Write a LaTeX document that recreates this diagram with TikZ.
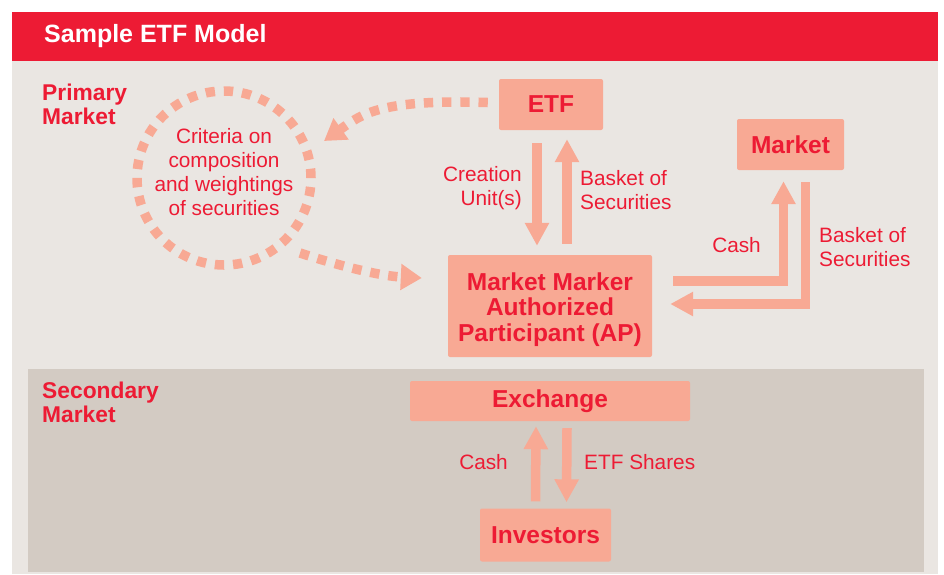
\documentclass[tikz,border=0pt]{standalone}
\usepackage{fontspec}
\setmainfont{Liberation Sans}
\usetikzlibrary{arrows.meta}
\definecolor{etfred}{HTML}{ED1B34}
\definecolor{salmon}{HTML}{F8A994}
\definecolor{panelA}{HTML}{EAE6E2}
\definecolor{panelB}{HTML}{D3CBC3}
\begin{document}
\begin{tikzpicture}[x=1pt,y=-1pt,
  box/.style={fill=salmon, rounded corners=2pt, inner sep=0pt, text=etfred,
    align=center, font=\fontsize{24.5}{25.5}\selectfont\bfseries},
  lbl/.style={inner sep=0pt, text=etfred, font=\fontsize{20.8}{24}\selectfont},
  sect/.style={inner sep=0pt, text=etfred, align=left,
    font=\fontsize{22.8}{24}\selectfont\bfseries},
  fat/.style={salmon, line width=9.5pt, line join=miter,
    -{Triangle[width=23pt,length=23pt]}},
  dashy/.style={salmon, line width=9.5pt, dash pattern=on 9.3pt off 8.92pt},
  dasharrow/.style={dashy, -{Triangle[width=25pt,length=21pt]}}]
\useasboundingbox (0,0) rectangle (944,574);
% panels and header band
\fill[white] (0,0) rectangle (944,574);
\fill[panelA] (12,61) rectangle (938,574);
\fill[etfred] (12,12) rectangle (938,61);
\fill[panelB] (28,369) rectangle (924,572);
\node[anchor=west, inner sep=0pt, text=white,
  font=\fontsize{25}{26}\selectfont\bfseries] (title) at (44,36) {Sample ETF Model};

% section labels
\node[sect, anchor=west] (prim) at (42,104) {Primary\\Market};
\node[sect, anchor=west] (sec) at (42,402) {Secondary\\Market};

% boxes
\node[box, minimum width=104pt, minimum height=51pt] (ETF) at (551,104.5) {ETF};
\node[box, minimum width=107pt, minimum height=51pt] (Market) at (790.5,144.5) {Market};
\node[box, minimum width=204pt, minimum height=102pt] (AP) at (550,306)
  {\rule{0pt}{24.5pt}Market Marker\\Authorized\\Participant (AP)};
\node[box, minimum width=280pt, minimum height=40pt] (Exchange) at (550,401) {Exchange};
\node[box, minimum width=131pt, minimum height=53pt] (Investors) at (545.5,535) {Investors};

% criteria circle
\node[circle, draw, dashy, minimum size=174pt, inner sep=0pt] (crit) at (224,178) {};
\node[lbl, align=center] (crittxt) at (224,172)
  {Criteria on\\composition\\and weightings\\of securities};

% dashed links
\draw[dasharrow] ([shift={(-11,-2)}]ETF.west) .. controls (380,99) and (362,114)
  .. ([shift={(100,-37)}]crit.center);
\draw[dasharrow] ([shift={(76,75)}]crit.center) .. controls (340,266) and (380,276)
  .. ([shift={(-26,-28)}]AP.west);

% ETF <-> AP
\draw[fat] ([shift={(-14,13)}]ETF.south) -- ([shift={(-13,-9)}]AP.north);
\draw[fat] ([shift={(17,-11)}]AP.north) -- ([shift={(16,9)}]ETF.south);
\node[lbl, anchor=east, align=right] (cu) at (522,188) {Creation\\Unit(s)};
\node[lbl, anchor=west, align=left] (bs1) at (580,190) {Basket of\\Securities};

% AP <-> Market
\draw[fat] ([shift={(21,-25)}]AP.east) -| ([shift={(-7,11)}]Market.south);
\draw[fat] ([shift={(15,12)}]Market.south) |- ([shift={(18,-2)}]AP.east);
\node[lbl, anchor=east] (cash1) at (761,245) {Cash};
\node[lbl, anchor=west, align=left] (bs2) at (819,247) {Basket of\\Securities};

% Exchange <-> Investors
\draw[fat] ([shift={(-10,-7)}]Investors.north) -- ([shift={(-14,5)}]Exchange.south);
\draw[fat] ([shift={(17,7)}]Exchange.south) -- ([shift={(21,-6)}]Investors.north);
\node[lbl, anchor=east] (cash2) at (508,462) {Cash};
\node[lbl, anchor=west] (shares) at (584,462) {ETF Shares};
\end{tikzpicture}
\end{document}
